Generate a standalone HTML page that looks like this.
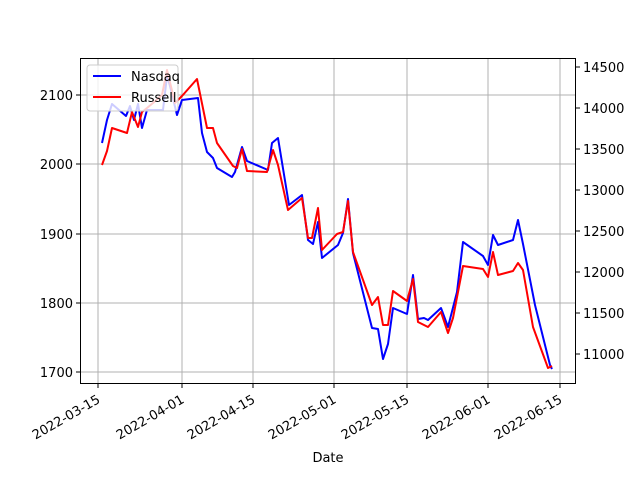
<!DOCTYPE html><html><head><style>body{margin:0;background:#fff}svg{display:block}text{font-family:"DejaVu Sans","Liberation Sans",sans-serif;font-size:13px;fill:#000}</style></head><body>
<svg width="640" height="480" xmlns="http://www.w3.org/2000/svg">
<g stroke="#b0b0b0" stroke-width="1">
<line x1="98" y1="58" x2="98" y2="384"/><line x1="182" y1="58" x2="182" y2="384"/><line x1="253" y1="58" x2="253" y2="384"/><line x1="334" y1="58" x2="334" y2="384"/><line x1="407" y1="58" x2="407" y2="384"/><line x1="488" y1="58" x2="488" y2="384"/><line x1="560" y1="58" x2="560" y2="384"/>
<line x1="80" y1="95" x2="576" y2="95"/><line x1="80" y1="164" x2="576" y2="164"/><line x1="80" y1="234" x2="576" y2="234"/><line x1="80" y1="303" x2="576" y2="303"/><line x1="80" y1="372" x2="576" y2="372"/>
</g>
<polyline fill="none" stroke="#00f" stroke-width="2" stroke-linejoin="round" points="102,143 107,120 112,104 126,116 130,106 134,120 138,104 142,128 147,110 163,110 167,76 170,86 177,115 182,100 198,98 202,133 207,152 213,158 217,168 232,177 235,172 242,147 247,161 268,170 272,143 278,138 289,205 302,195 308,240 313,244 318,222 322,258 338,245 343,233 348,199 353,253 372,328 378,329 383,359 388,344 393,308 407,314 413,275 418,319 424,318 428,320 441,308 448,327 457,292 463,242 483,256 488,265 493,235 498,245 513,240 518,220 523,244 535,305 550,365 552,369"/>
<polyline fill="none" stroke="#f00" stroke-width="2" stroke-linejoin="round" points="102,165 107,151 112,128 127,133 132,112 138,127 142,112 147,108 153,103 162,95 167,70 175,103 182,96 197,79 207,128 213,128 217,143 233,166 237,168 242,149 247,171 267,172 273,150 278,165 288,210 302,198 308,238 312,238 318,208 322,250 337,234 343,232 348,201 353,252 372,305 378,297 383,325 388,325 393,291 407,301 413,279 418,322 428,327 441,312 448,333 453,318 463,266 483,269 488,277 493,252 498,275 513,271 518,263 523,270 533,327 548,368 552,366"/>
<rect x="80.5" y="58.5" width="495" height="325" fill="none" stroke="#000"/>
<rect x="87" y="65" width="91" height="46" rx="3" fill="#fff" fill-opacity="0.8" stroke="#ccc"/>
<line x1="93" y1="76" x2="121" y2="76" stroke="#00f" stroke-width="2"/><text x="131" y="81">Nasdaq</text>
<line x1="93" y1="97" x2="121" y2="97" stroke="#f00" stroke-width="2"/><text x="131" y="102">Russell</text>
<g stroke="#000"><line x1="76" y1="95" x2="80" y2="95"/><line x1="76" y1="164" x2="80" y2="164"/><line x1="76" y1="234" x2="80" y2="234"/><line x1="76" y1="303" x2="80" y2="303"/><line x1="76" y1="372" x2="80" y2="372"/>
<line x1="576" y1="67" x2="580" y2="67"/><line x1="576" y1="108" x2="580" y2="108"/><line x1="576" y1="149" x2="580" y2="149"/><line x1="576" y1="190" x2="580" y2="190"/><line x1="576" y1="231" x2="580" y2="231"/><line x1="576" y1="272" x2="580" y2="272"/><line x1="576" y1="313" x2="580" y2="313"/><line x1="576" y1="354" x2="580" y2="354"/>
<line x1="98" y1="384" x2="98" y2="388"/><line x1="182" y1="384" x2="182" y2="388"/><line x1="253" y1="384" x2="253" y2="388"/><line x1="334" y1="384" x2="334" y2="388"/><line x1="407" y1="384" x2="407" y2="388"/><line x1="488" y1="384" x2="488" y2="388"/><line x1="560" y1="384" x2="560" y2="388"/></g>
<g text-anchor="end"><text x="73" y="100">2100</text><text x="73" y="169">2000</text><text x="73" y="239">1900</text><text x="73" y="308">1800</text><text x="73" y="377">1700</text></g>
<g><text x="583" y="72">14500</text><text x="583" y="113">14000</text><text x="583" y="154">13500</text><text x="583" y="195">13000</text><text x="583" y="236">12500</text><text x="583" y="277">12000</text><text x="583" y="318">11500</text><text x="583" y="359">11000</text></g>
<g text-anchor="end">
<text transform="translate(101,402) rotate(-30)">2022-03-15</text><text transform="translate(185,402) rotate(-30)">2022-04-01</text><text transform="translate(256,402) rotate(-30)">2022-04-15</text><text transform="translate(337,402) rotate(-30)">2022-05-01</text><text transform="translate(410,402) rotate(-30)">2022-05-15</text><text transform="translate(491,402) rotate(-30)">2022-06-01</text><text transform="translate(563,402) rotate(-30)">2022-06-15</text></g>
<text x="328" y="462" text-anchor="middle">Date</text>
</svg></body></html>
